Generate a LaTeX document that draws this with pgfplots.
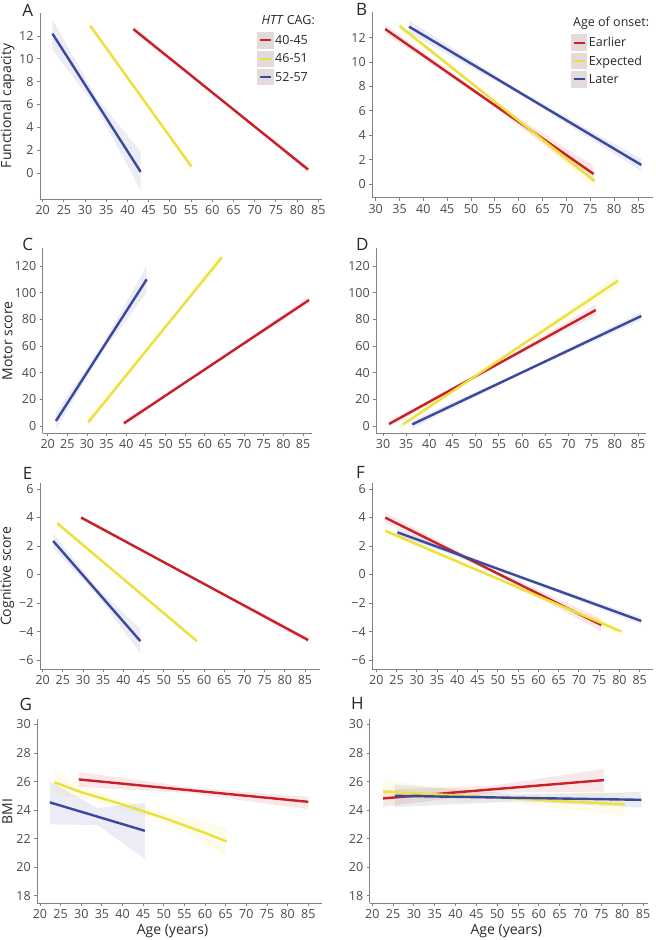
\documentclass[border=0pt]{standalone}
\usepackage{fontspec}
\setmainfont{Open Sans}
\usepackage{pgfplots}
\pgfplotsset{compat=1.18}

\definecolor{cred}{RGB}{200,32,38}
\definecolor{cyel}{RGB}{236,224,58}
\definecolor{cblu}{RGB}{58,72,158}
\definecolor{axgray}{RGB}{130,130,130}
\definecolor{tickgray}{RGB}{75,75,75}
\definecolor{labgray}{RGB}{40,40,40}
\definecolor{keybg}{RGB}{228,218,218}

\pgfplotsset{
  panel/.style={
    scale only axis, axis lines=left,
    axis line style={-, draw=axgray, line width=0.9pt},
    tick align=outside, major tick length=3pt,
    tick style={draw=axgray, line width=0.9pt},
    ticklabel style={font=\fontsize{12.5}{12.5}\selectfont, text=tickgray},
    /pgf/number format/assume math mode=true,
    label style={font=\fontsize{14}{14}\selectfont, text=labgray},
    xtick={20,25,...,85},
  },
  ribbon/.style={draw=none, fill=#1, fill opacity=0.1, forget plot},
  fit/.style={draw=#1, line width=2.4pt, no markers},
  keyimg/.style={legend image code/.code={
      \fill[keybg] (0pt,-7pt) rectangle (14pt,7pt);
      \draw[##1, line width=2pt] (1.5pt,0pt) -- (12.5pt,0pt);}},
  keylegend/.style={legend style={at={(axis description cs:#1)}, anchor=north west,
      draw=none, fill=none, inner sep=0pt, row sep=2pt,
      font=\fontsize{12.5}{12.5}\selectfont, text=labgray,
      nodes={inner sep=1.5pt}}, legend cell align=left},
}

\begin{document}
\begin{tikzpicture}
\path[use as bounding box] (0pt,0pt) rectangle (656pt,-940pt);

% ---------- A: functional capacity by CAG
\begin{axis}[panel, at={(40pt,-199pt)}, anchor=south west,
  width=282pt, height=186.3pt,
  xmin=19.36, xmax=85.87, ymin=-2.28, ymax=14.04,
  ytick={0,2,...,12},
  ylabel={Functional capacity},
  ylabel style={at={(axis description cs:-0.1152,0.5)}, anchor=center},
  keyimg, keylegend={0.770,0.896}]
\addplot[ribbon=cred] coordinates {(41.4,12.35)(62,6.35)(82.6,0.05)(82.6,0.55)(62,6.55)(41.4,12.85)} -- cycle;
\addplot[ribbon=cyel] coordinates {(31.2,12.55)(43.15,6.6)(55.1,0.2)(55.1,0.9)(43.15,6.84)(31.2,13.25)} -- cycle;
\addplot[ribbon=cblu] coordinates {(22.3,10.8)(32.7,5.7)(43.1,-1.49)(43.1,1.87)(32.7,6.6)(22.3,13.45)} -- cycle;
\addplot[fit=cred] coordinates {(41.4,12.6)(82.6,0.3)};
\addlegendentry{40-45}
\addplot[fit=cyel] coordinates {(31.2,12.9)(55.1,0.55)};
\addlegendentry{46-51}
\addplot[fit=cblu] coordinates {(22.3,12.2)(43.1,0.1)};
\addlegendentry{52-57}
\node[anchor=base west, font=\fontsize{12.5}{12.5}\selectfont, text=labgray]
  at (axis description cs:0.773,0.934) {\textit{HTT} CAG:};
\end{axis}

% ---------- B: functional capacity by onset
\begin{axis}[panel, at={(372.3pt,-197.7pt)}, anchor=south west,
  width=280.7pt, height=186pt,
  xmin=29.29, xmax=88.15, ymin=-1.1, ymax=14.12,
  xtick={30,35,...,85}, ytick={0,2,...,12},
  keyimg, keylegend={0.707,0.879}]
\addplot[ribbon=cred] coordinates {(32,12.35)(53.85,6.62)(75.7,0.14)(75.7,1.54)(53.85,6.92)(32,13.05)} -- cycle;
\addplot[ribbon=cyel] coordinates {(35,12.65)(55.45,6.49)(75.9,-0.43)(75.9,0.97)(55.45,6.73)(35,13.25)} -- cycle;
\addplot[ribbon=cblu] coordinates {(37,12.4)(61.35,7.09)(85.7,1.08)(85.7,2.08)(61.35,7.39)(37,13.4)} -- cycle;
\addplot[fit=cred] coordinates {(32,12.7)(75.7,0.84)};
\addlegendentry{Earlier}
\addplot[fit=cyel] coordinates {(35,12.95)(75.9,0.27)};
\addlegendentry{Expected}
\addplot[fit=cblu] coordinates {(37,12.9)(85.7,1.58)};
\addlegendentry{Later}
\node[anchor=base west, font=\fontsize{12.5}{12.5}\selectfont, text=labgray]
  at (axis description cs:0.703,0.923) {Age of onset:};
\end{axis}

% ---------- C: motor score by CAG
\begin{axis}[panel, at={(42.7pt,-433.3pt)}, anchor=south west,
  width=269pt, height=185pt,
  xmin=18.73, xmax=87.18, ymin=-5.5, ymax=133.3,
  ytick={0,20,...,120},
  ylabel={Motor score},
  ylabel style={at={(axis description cs:-0.1309,0.5)}, anchor=center}]
\addplot[ribbon=cred] coordinates {(39.4,0)(62.95,47.45)(86.5,92)(86.5,97)(62.95,49.05)(39.4,4)} -- cycle;
\addplot[ribbon=cyel] coordinates {(30.3,-0.25)(47.3,63.4)(64.3,122.5)(64.3,130.5)(47.3,65.8)(30.3,5.75)} -- cycle;
\addplot[ribbon=cblu] coordinates {(22.1,-2.25)(33.65,54.4)(45.2,100)(45.2,120)(33.65,59.4)(22.1,9.75)} -- cycle;
\addplot[fit=cred] coordinates {(39.4,2)(86.5,94.5)};
\addplot[fit=cyel] coordinates {(30.3,2.75)(64.3,126.5)};
\addplot[fit=cblu] coordinates {(22.1,3.75)(45.2,110)};
\end{axis}

% ---------- D: motor score by onset
\begin{axis}[panel, at={(376.3pt,-433.3pt)}, anchor=south west,
  width=270pt, height=185pt,
  xmin=28.55, xmax=86.79, ymin=-5.5, ymax=133.3,
  xtick={30,35,...,85}, ytick={0,20,...,120}]
\addplot[ribbon=cred] coordinates {(31.3,-0.5)(53.6,43.25)(75.9,83)(75.9,91)(53.6,45.25)(31.3,3.5)} -- cycle;
\addplot[ribbon=cyel] coordinates {(34.3,-0.8)(57.5,54.1)(80.7,104)(80.7,114)(57.5,56.1)(34.3,3.2)} -- cycle;
\addplot[ribbon=cblu] coordinates {(36.3,-1.8)(61,40.85)(85.7,79.5)(85.7,85.5)(61,42.85)(36.3,4.2)} -- cycle;
\addplot[fit=cred] coordinates {(31.3,1.5)(75.9,87)};
\addplot[fit=cyel] coordinates {(34.3,1.2)(80.7,109)};
\addplot[fit=cblu] coordinates {(36.3,1.2)(85.7,82.5)};
\end{axis}

% ---------- E: cognitive score by CAG
\begin{axis}[panel, at={(40pt,-669.3pt)}, anchor=south west,
  width=280pt, height=186pt,
  xmin=19.33, xmax=88.72, ymin=-6.65, ymax=6.40,
  ytick={-6,-4,...,6}, yticklabels={−6,−4,−2,0,2,4,6},
  ylabel={Cognitive score},
  ylabel style={at={(axis description cs:-0.1161,0.5)}, anchor=center}]
\addplot[ribbon=cred] coordinates {(29.5,3.85)(57.65,-0.38)(85.8,-4.8)(85.8,-4.4)(57.65,-0.22)(29.5,4.15)} -- cycle;
\addplot[ribbon=cyel] coordinates {(23.6,3.4)(40.9,-0.615)(58.2,-4.87)(58.2,-4.47)(40.9,-0.455)(23.6,3.8)} -- cycle;
\addplot[ribbon=cblu] coordinates {(22.6,1.85)(33.4,-1.41)(44.2,-5.52)(44.2,-3.82)(33.4,-0.91)(22.6,2.85)} -- cycle;
\addplot[fit=cred] coordinates {(29.5,4.0)(85.8,-4.6)};
\addplot[fit=cyel] coordinates {(23.6,3.6)(58.2,-4.67)};
\addplot[fit=cblu] coordinates {(22.6,2.35)(44.2,-4.67)};
\end{axis}

% ---------- F: cognitive score by onset
\begin{axis}[panel, at={(372.3pt,-669.3pt)}, anchor=south west,
  width=280.7pt, height=186pt,
  xmin=19.01, xmax=88.28, ymin=-6.65, ymax=6.40,
  ytick={-6,-4,...,6}, yticklabels={−6,−4,−2,0,2,4,6}]
\addplot[ribbon=cred] coordinates {(22.2,3.64)(48.85,0.105)(75.5,-3.99)(75.5,-3.09)(48.85,0.345)(22.2,4.34)} -- cycle;
\addplot[ribbon=cyel] coordinates {(22.2,2.82)(51.35,-0.57)(80.5,-4.31)(80.5,-3.71)(51.35,-0.37)(22.2,3.32)} -- cycle;
\addplot[ribbon=cblu] coordinates {(25.2,2.71)(55.3,-0.25)(85.4,-3.51)(85.4,-3.01)(55.3,-0.05)(25.2,3.21)} -- cycle;
\addplot[fit=cred] coordinates {(22.2,3.99)(75.5,-3.54)};
\addplot[fit=cyel] coordinates {(22.2,3.07)(80.5,-4.01)};
\addplot[fit=cblu] coordinates {(25.2,2.96)(85.4,-3.26)};
\end{axis}

% ---------- G: BMI by CAG
\begin{axis}[panel, at={(37.3pt,-903.3pt)}, anchor=south west,
  width=284.4pt, height=184pt,
  xmin=19.35, xmax=88.25, ymin=17.47, ymax=30.36,
  ytick={18,20,...,30},
  ylabel={BMI},
  ylabel style={at={(axis description cs:-0.1048,0.5)}, anchor=center},
  xlabel={Age (years)},
  xlabel style={at={(axis description cs:0.4754,-0.149)}, anchor=center}]
\addplot[ribbon=cred] coordinates {(29.4,25.63)(57.2,25.165)(85,24.05)(85,24.93)(57.2,25.565)(29.4,26.68)} -- cycle;
\addplot[ribbon=cyel] coordinates {(23.5,25.15)(30,24.8)(40,24.1)(50,23.1)(60,21.7)(65.2,20.8)
  (65.2,22.8)(60,23.1)(50,23.8)(40,24.7)(30,25.7)(23.5,26.75)} -- cycle;
\addplot[ribbon=cblu] coordinates {(22.4,23.0)(33.9,22.95)(45.4,20.6)(45.4,24.5)(33.9,24.15)(22.4,26.0)} -- cycle;
\addplot[fit=cred] coordinates {(29.4,26.15)(85,24.58)};
\addplot[fit=cyel] coordinates {(23.5,25.95)(30,25.25)(40,24.4)(50,23.45)(60,22.4)(65.2,21.8)};
\addplot[fit=cblu] coordinates {(22.4,24.54)(45.4,22.55)};
\end{axis}

% ---------- H: BMI by onset
\begin{axis}[panel, at={(369.7pt,-903.3pt)}, anchor=south west,
  width=278.3pt, height=184pt,
  xmin=19.38, xmax=86.2, ymin=17.47, ymax=30.36,
  ytick={18,20,...,30},
  xlabel={Age (years)},
  xlabel style={at={(axis description cs:0.4908,-0.149)}, anchor=center}]
\addplot[ribbon=cred] coordinates {(22.6,24.22)(49.1,25.21)(75.6,25.3)(75.6,26.9)(49.1,25.71)(22.6,25.42)} -- cycle;
\addplot[ribbon=cyel] coordinates {(22.6,24.5)(51.6,24.55)(80.6,23.6)(80.6,25.2)(51.6,25.15)(22.6,26.1)} -- cycle;
\addplot[ribbon=cblu] coordinates {(25.4,24.2)(55,24.61)(84.6,24.17)(84.6,25.27)(55,25.11)(25.4,25.8)} -- cycle;
\addplot[fit=cred] coordinates {(22.6,24.82)(75.6,26.1)};
\addplot[fit=cyel] coordinates {(22.6,25.3)(80.6,24.4)};
\addplot[fit=cblu] coordinates {(25.4,25.0)(84.6,24.72)};
\end{axis}

% panel letters
\begin{scope}[every node/.style={anchor=base west, inner sep=0pt,
    font=\fontsize{17}{17}\selectfont, text=labgray}]
\node at (22.2pt,-16pt) {A};
\node at (355.8pt,-15pt) {B};
\node at (22.2pt,-250.3pt) {C};
\node at (355.8pt,-250pt) {D};
\node at (22.8pt,-479.3pt) {E};
\node at (355.8pt,-478.3pt) {F};
\node at (19.5pt,-710pt) {G};
\node at (350.8pt,-709.3pt) {H};
\end{scope}
\end{tikzpicture}
\end{document}
